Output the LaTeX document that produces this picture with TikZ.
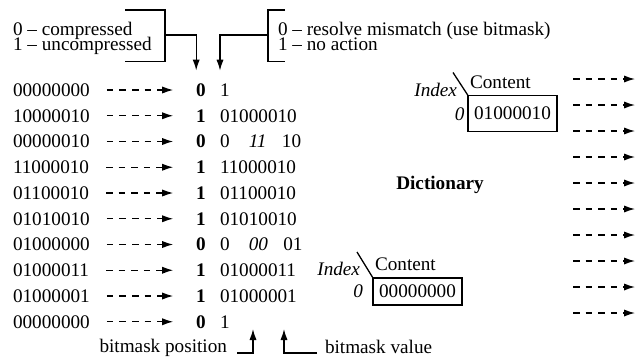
\documentclass[tikz,border=0pt]{standalone}
\usepackage{fontspec}
\setmainfont{Liberation Serif}[Scale=0.96]
\usetikzlibrary{arrows.meta, calc}

\begin{document}
\begin{tikzpicture}[x=0.5pt, y=-0.5pt,
    every node/.style={inner sep=0pt, outer sep=0pt},
    wire/.style={line width=0.65pt},
    tip/.style={wire, -{Latex[length=5.5pt, width=3.6pt]}},
    feed/.style={tip, dash pattern=on 3.3pt off 3pt},
    dictbox/.style={draw, line width=0.65pt, minimum width=44.5pt}]

    % Fix the size of the figure
    \useasboundingbox (0,0) rectangle (636,360);

    % Legend of the two flag columns
    \node[anchor=base west] (compA) at (13,35) {0 -- compressed};
    \node[anchor=base west] (compB) at (13,50) {1 -- uncompressed};
    \node[anchor=base west] (maskA) at (278,35) {0 -- resolve mismatch (use bitmask)};
    \node[anchor=base west] (maskB) at (278,50) {1 -- no action};

    % Input words, flags and compressed words
    \foreach \word/\flag/\code [count=\i from 0] in {
        00000000/0/1,
        10000010/1/01000010,
        00000010/0/{0\quad\textit{11}\hspace{.8em}10},
        11000010/1/11000010,
        01100010/1/01100010,
        01010010/1/01010010,
        01000000/0/{0\quad\textit{00}\hspace{.8em}01},
        01000011/1/01000011,
        01000001/1/01000001,
        00000000/0/1}
    {
        \node[anchor=west] (in\i) at (13,{90+25.75*\i}) {\word};
        \node[font=\bfseries] (flag\i) at (201,{90+25.75*\i}) {\flag};
        \node[anchor=west] (out\i) at (220,{90+25.75*\i}) {\code};
        \draw[feed, shorten <=8.5pt, shorten >=11.5pt] (in\i) -- (flag\i);
    }

    % Brackets of the legend
    \coordinate (compJoin) at (165,35);
    \coordinate (maskJoin) at (268,35);
    \draw[wire] (125,10) -| (165,61.5) -- (125,61.5);
    \draw[wire] (285,10) -| (268,61.5) -- (285,61.5);
    \draw[tip, shorten >=6.5pt] (compJoin) -| (flag0.north west);
    \draw[tip, shorten >=6.5pt] (maskJoin) -| (out0.north west);

    % Bitmask labels
    \node[anchor=base east] (posLabel) at (227,352) {bitmask position};
    \node[anchor=base west] (valLabel) at (325,353) {bitmask value};
    \coordinate (posTip) at (253,329);
    \coordinate (valTip) at (284,329);
    \draw[tip] ($(posLabel.base east)+(10,1)$) -| (posTip);
    \draw[tip] ($(valLabel.base west)+(-8,0)$) -| (valTip);

    % First dictionary
    \node[dictbox, minimum height=18pt] (dictA) at (512.5,113.5) {01000010};
    \node[anchor=base west] (contA) at ($(dictA.north west)+(2,-7)$) {Content};
    \node[anchor=base east, font=\itshape] (idxA) at ($(dictA.north west)+(-11,1)$) {Index};
    \node[anchor=east, font=\itshape] (keyA) at ($(dictA.west)+(-3.5,1)$) {0};
    \draw[wire] (dictA.north west) -- ++(-15,-23);

    \node[font=\bfseries] (dictLabel) at (440,185) {Dictionary};

    % Second dictionary
    \node[dictbox, minimum height=13.5pt] (dictB) at (417.5,291.5) {00000000};
    \node[anchor=base west] (contB) at ($(dictB.north west)+(2,-8)$) {Content};
    \node[anchor=base east, font=\itshape] (idxB) at ($(dictB.north west)+(-13,-3)$) {Index};
    \node[anchor=east, font=\itshape] (keyB) at ($(dictB.west)+(-10,0)$) {0};
    \draw[wire] (dictB.north west) -- ++(-16,-26);

    % Output stream
    \foreach \i in {0,...,9} {
        \coordinate (streamS\i) at (573,{79+26*\i});
        \coordinate (streamE\i) at (635,{79+26*\i});
        \draw[feed] (streamS\i) -- (streamE\i);
    }

\end{tikzpicture}
\end{document}
